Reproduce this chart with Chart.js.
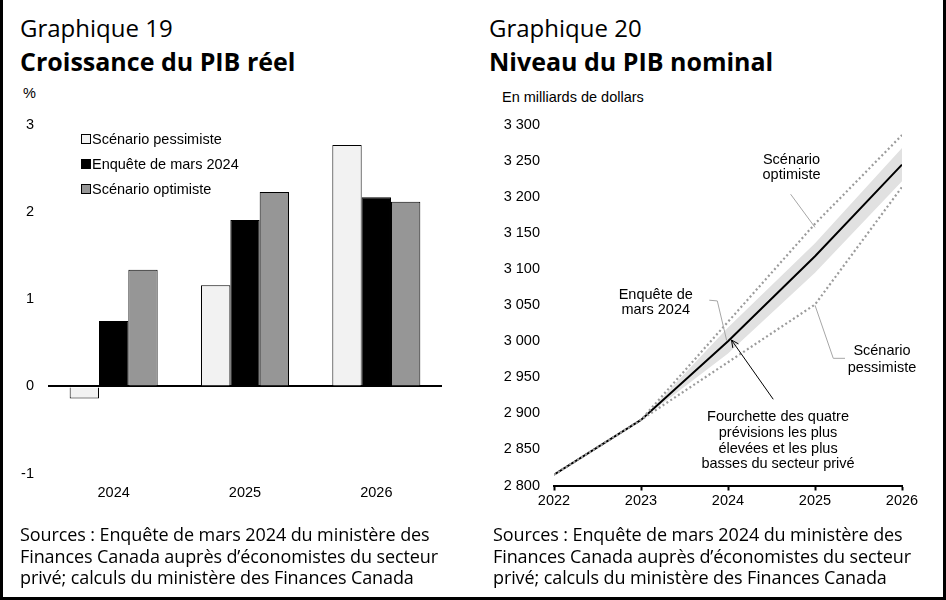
<!DOCTYPE html>
<html><head><meta charset="utf-8">
<script src="https://cdn.jsdelivr.net/npm/chart.js@4.4.1/dist/chart.umd.min.js"></script>
<style>
html,body{margin:0;padding:0;background:#fff;}
body{width:946px;height:600px;position:relative;overflow:hidden;font-family:"Liberation Sans",Arial,sans-serif;color:#000;}
#frame{position:absolute;left:0;top:-10px;width:946px;height:610px;box-sizing:border-box;border:3px solid #000;border-top:none;}
.gnum{position:absolute;font-family:"Open Sans",sans-serif;font-size:24px;line-height:24px;white-space:nowrap;}
.gtitle{position:absolute;font-family:"Open Sans",sans-serif;font-weight:700;font-size:25px;line-height:25px;white-space:nowrap;}
.unit{position:absolute;font-family:"Liberation Sans",Arial,sans-serif;font-size:14.5px;line-height:16px;white-space:nowrap;}
.src{position:absolute;font-family:"Open Sans",sans-serif;font-size:18px;line-height:21.5px;white-space:nowrap;letter-spacing:-0.1px;}
canvas{position:absolute;top:0;}
#legend19{position:absolute;left:81px;top:126px;font-family:"Liberation Sans",Arial,sans-serif;font-size:14.5px;}
#legend19 .row{height:25px;line-height:18px;white-space:nowrap;display:flex;align-items:center;}
#legend19 .sw{display:inline-block;width:8px;height:8px;border:1px solid #000;margin-right:1px;}
</style>
</head><body>
<div id="frame"></div>
<div class="gnum" style="left:20px;top:16px;">Graphique 19</div>
<div class="gtitle" style="left:20px;top:48.5px;">Croissance du PIB réel</div>
<div class="unit" style="left:23px;top:85px;">%</div>
<div class="gnum" style="left:489px;top:16px;">Graphique 20</div>
<div class="gtitle" style="left:489px;top:48.5px;">Niveau du PIB nominal</div>
<div class="unit" style="left:502px;top:89px;">En milliards de dollars</div>

<canvas id="c19" width="470" height="600" style="left:0px;"></canvas>
<canvas id="c20" width="476" height="600" style="left:470px;"></canvas>
<div id="legend19"></div>

<div class="src" style="left:20px;top:524px;">Sources : Enquête de mars 2024 du ministère des<br>Finances Canada auprès d’économistes du secteur<br>privé; calculs du ministère des Finances Canada</div>
<div class="src" style="left:493px;top:524px;">Sources : Enquête de mars 2024 du ministère des<br>Finances Canada auprès d’économistes du secteur<br>privé; calculs du ministère des Finances Canada</div>

<script>
// ---------- Graphique 19 : Croissance du PIB réel (%) ----------
const categories19 = ['2024', '2025', '2026'];
const seriesNames19 = ['Scénario pessimiste', 'Enquête de mars 2024', 'Scénario optimiste'];
const pessimiste19 = [-0.14, 1.16, 2.77];
const enquete19 = [0.75, 1.91, 2.17];
const optimiste19 = [1.34, 2.23, 2.12];

// ---------- Graphique 20 : Niveau du PIB nominal (milliards $) ----------
const years20 = [2022, 2023, 2024, 2025, 2026];
const enquete20 = [2815, 2891, 3000, 3118, 3245];
const optimiste20 = [2815, 2891, 3027, 3163, 3286];
const pessimiste20 = [2815, 2891, 2971, 3051, 3214];
const fourchetteHaute20 = [null, 2891, 3019, 3136, 3268];
const fourchetteBasse20 = [null, 2891, 2983, 3095, 3222];
const yTickLabels20 = ['2 800', '2 850', '2 900', '2 950', '3 000', '3 050', '3 100', '3 150', '3 200', '3 250', '3 300'];

const FONT = {family: '"Liberation Sans", Arial, sans-serif', size: 14.5};
const colors19 = ['#f2f2f2', '#000000', '#969696'];

// Legend (HTML)
const lg = document.getElementById('legend19');
seriesNames19.forEach((n, i) => {
  const r = document.createElement('div'); r.className = 'row';
  const s = document.createElement('span'); s.className = 'sw'; s.style.background = colors19[i];
  r.appendChild(s); r.appendChild(document.createTextNode(n)); lg.appendChild(r);
});

new Chart(document.getElementById('c19'), {
  type: 'bar',
  data: {
    labels: categories19,
    datasets: [pessimiste19, enquete19, optimiste19].map((d, i) => ({
      label: seriesNames19[i], data: d, backgroundColor: colors19[i],
      borderColor: '#000', borderWidth: 1
    }))
  },
  options: {
    responsive: false, animation: false,
    layout: {padding: {left: 0, right: 28, top: 125, bottom: 96.5}},
    plugins: {legend: {display: false}, tooltip: {enabled: false}},
    datasets: {bar: {categoryPercentage: 0.67, barPercentage: 1}},
    scales: {
      x: {
        grid: {display: false, drawTicks: false}, border: {display: false},
        ticks: {padding: 11, color: '#000', font: FONT},
        afterFit: s => { s.height = 30; }
      },
      y: {
        min: -1, max: 3,
        ticks: {stepSize: 1, padding: 14, color: '#000', font: FONT},
        grid: {color: c => (c.tick && c.tick.value === 0) ? '#000' : 'rgba(0,0,0,0)', lineWidth: 2, drawTicks: false},
        border: {display: false},
        afterFit: s => { s.width = 48; }
      }
    }
  }
});

// Annotations for chart 20 (data coordinates)
const notes20 = [
  {lines: ['Scénario', 'optimiste'], x: 2024.73, y: 3252, lh: 15.7, leader: [[2024.72, 3204], [2025.0, 3158]]},
  {lines: ['Enquête de', 'mars 2024'], x: 2023.17, y: 3064, lh: 14.5, leader: [[2023.785, 3057], [2023.877, 3056], [2023.985, 3001]]},
  {lines: ['Scénario', 'pessimiste'], x: 2025.77, y: 2986, lh: 16.6, leader: [[2025.0, 3050], [2025.21, 2976.4], [2025.345, 2976.4]]},
  {lines: ['Fourchette des quatre', 'prévisions les plus', 'élevées et les plus', 'basses du secteur privé'], x: 2024.575, y: 2895.4, lh: 15.9, arrow: [[2024.52, 2919.6], [2024.04, 3001.8]]}
];

const notePlugin = {
  id: 'notes20',
  afterDatasetsDraw(chart) {
    const {ctx} = chart; const xs = chart.scales.x, ys = chart.scales.y;
    const P = p => [xs.getPixelForValue(p[0]), ys.getPixelForValue(p[1])];
    ctx.save();
    notes20.forEach(n => {
      if (n.leader) {
        ctx.strokeStyle = '#a6a6a6'; ctx.lineWidth = 1; ctx.beginPath();
        n.leader.forEach((p, i) => { const q = P(p); i ? ctx.lineTo(q[0], q[1]) : ctx.moveTo(q[0], q[1]); });
        ctx.stroke();
      }
      if (n.arrow) {
        const a = P(n.arrow[0]), b = P(n.arrow[1]);
        ctx.strokeStyle = '#000'; ctx.lineWidth = 1; ctx.beginPath();
        ctx.moveTo(a[0], a[1]); ctx.lineTo(b[0], b[1]); ctx.stroke();
        const ang = Math.atan2(b[1] - a[1], b[0] - a[0]), L = 8;
        ctx.beginPath();
        ctx.moveTo(b[0] - L * Math.cos(ang - 0.45), b[1] - L * Math.sin(ang - 0.45));
        ctx.lineTo(b[0], b[1]);
        ctx.lineTo(b[0] - L * Math.cos(ang + 0.45), b[1] - L * Math.sin(ang + 0.45));
        ctx.stroke();
      }
      ctx.fillStyle = '#000';
      ctx.font = '14.5px "Liberation Sans", Arial, sans-serif';
      ctx.textAlign = 'center'; ctx.textBaseline = 'middle';
      const c = P([n.x, n.y]);
      n.lines.forEach((t, i) => ctx.fillText(t, c[0], c[1] + i * n.lh));
    });
    ctx.restore();
  }
};

const pts = arr => years20.map((x, i) => ({x: x, y: arr[i]}));
new Chart(document.getElementById('c20'), {
  type: 'line',
  data: {
    datasets: [
      {label: 'Scénario optimiste', data: pts(optimiste20), borderColor: '#9b9b9b', borderWidth: 2.2, borderDash: [2, 2.6], pointRadius: 0, fill: false, tension: 0},
      {label: 'Scénario pessimiste', data: pts(pessimiste20), borderColor: '#9b9b9b', borderWidth: 2.2, borderDash: [2, 2.6], pointRadius: 0, fill: false, tension: 0},
      {label: 'Enquête de mars 2024', data: pts(enquete20), borderColor: '#000', borderWidth: 2, pointRadius: 0, fill: false, tension: 0},
      {label: 'Fourchette haute', data: pts(fourchetteHaute20), borderWidth: 0, borderColor: 'rgba(0,0,0,0)', pointRadius: 0, fill: false},
      {label: 'Fourchette basse', data: pts(fourchetteBasse20), borderWidth: 0, borderColor: 'rgba(0,0,0,0)', pointRadius: 0, fill: '-1', backgroundColor: '#e1e1e1'}
    ]
  },
  options: {
    responsive: false, animation: false,
    layout: {padding: {left: 0, right: 44, top: 125, bottom: 84.5}},
    plugins: {legend: {display: false}, tooltip: {enabled: false}},
    scales: {
      x: {
        type: 'linear', min: 2022, max: 2026,
        ticks: {stepSize: 1, padding: 2, color: '#000', font: FONT, callback: v => String(v)},
        grid: {drawOnChartArea: false, drawTicks: true, tickLength: 5, tickColor: '#000', tickWidth: 2},
        border: {display: true, color: '#000', width: 2},
        afterFit: s => { s.height = 30; }
      },
      y: {
        min: 2800, max: 3300,
        ticks: {stepSize: 50, padding: 14, color: '#000', font: FONT,
          callback: (v, i) => yTickLabels20[i]},
        grid: {display: false, drawTicks: false}, border: {display: false},
        afterFit: s => { s.width = 84; }
      }
    }
  },
  plugins: [notePlugin]
});
</script>
</body></html>
